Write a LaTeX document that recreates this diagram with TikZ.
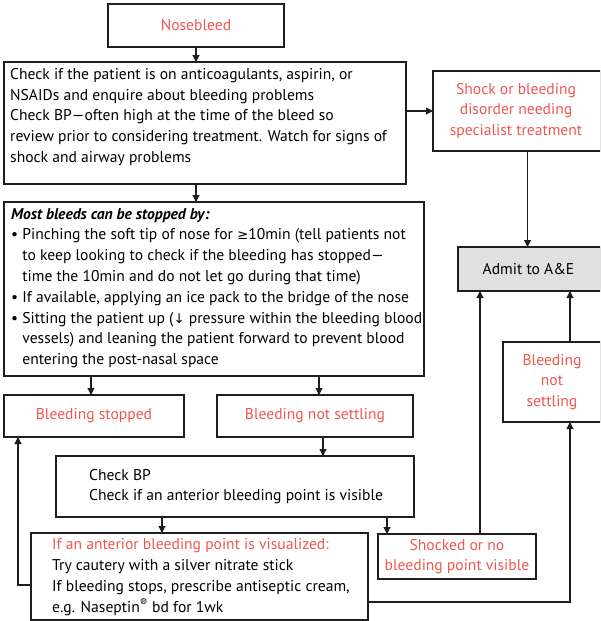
\documentclass[tikz,border=0pt]{standalone}
\usepackage{fontspec}
\setmainfont{PT Sans}
\newfontfamily\symfont{DejaVu Sans}
\usetikzlibrary{arrows.meta}
\definecolor{alert}{RGB}{238,86,80}
\definecolor{admitgray}{RGB}{224,224,224}
\definecolor{edge}{RGB}{30,30,30}
\newcommand{\flowfont}{\fontsize{15.6}{20.8}\selectfont}
\newcommand{\glyphfont}{\symfont\fontsize{13.4}{20.8}\selectfont}
\begin{document}
\begin{tikzpicture}[x=1pt,y=-1pt,
  box/.style={draw=edge, line width=1.2pt, anchor=north west, inner sep=0pt, outer sep=0pt},
  note/.style={anchor=west, align=left, inner sep=0pt, text=black, font=\flowfont},
  alerttext/.style={text=alert, align=center, inner sep=0pt, font=\flowfont},
  plaintext/.style={text=black, align=center, inner sep=0pt, font=\flowfont},
  arr/.style={draw=edge, line width=1.1pt, -{Triangle[length=7pt,width=7pt]}},
  ln/.style={draw=edge, line width=1.1pt}]
\useasboundingbox (0,0) rectangle (600,621);
\clip (0,0) rectangle (600,621);

% boxes
\node[box, minimum width=176, minimum height=43] (nose) at (108,4) {};
\node[alerttext] (noset) at (nose.center) {Nosebleed};

\node[box, minimum width=402, minimum height=122] (check) at (4,62) {};
\node[note] (checkt) at (10,117) {Check if the patient is on anticoagulants, aspirin, or\\
NSAIDs and enquire about bleeding problems\\
Check BP---often high at the time of the bleed so\\
review prior to considering treatment. Watch for signs of\\
shock and airway problems};

\node[box, minimum width=168, minimum height=80] (shock) at (433,71) {};
\node[alerttext] (shockt) at ([xshift=-1pt]shock.center) {Shock or bleeding\\disorder needing\\specialist treatment};

\node[box, fill=admitgray, minimum width=143, minimum height=44] (admit) at (458,247) {};
\node[plaintext] (admitt) at ([xshift=-1pt]admit.center) {Admit to A\&E};

\node[box, minimum width=98, minimum height=80] (bnsr) at (503,342) {};
\node[alerttext] (bnsrt) at (bnsr.center) {Bleeding\\not\\settling};

\node[box, minimum width=420, minimum height=174] (stop) at (4,202) {};
\node[note] (stopt) at (11,288) {\textbf{\textit{Most bleeds can be stopped by:}}\\
\textbullet\ Pinching the soft tip of nose for {\glyphfont ≥}10min (tell patients not\\
\phantom{\textbullet\ }to keep looking to check if the bleeding has stopped---\\
\phantom{\textbullet\ }time the 10min and do not let go during that time)\\
\textbullet\ If available, applying an ice pack to the bridge of the nose\\
\textbullet\ Sitting the patient up ({\glyphfont ↓} pressure within the bleeding blood\\
\phantom{\textbullet\ }vessels) and leaning the patient forward to prevent blood\\
\phantom{\textbullet\ }entering the post-nasal space};

\node[box, minimum width=180, minimum height=42] (stopped) at (4,395) {};
\node[alerttext] (stoppedt) at (stopped.center) {Bleeding stopped};

\node[box, minimum width=196, minimum height=42] (notset) at (217,395) {};
\node[alerttext] (notsett) at (notset.center) {Bleeding not settling};

\node[box, minimum width=358, minimum height=61] (bp) at (56,456) {};
\node[note] (bpt) at (89,486.5) {Check BP\\Check if an anterior bleeding point is visible};

\node[box, minimum width=337, minimum height=87] (caut) at (31,533) {};
\node[note] (cautt) at (52,577) {\textcolor{alert}{If an anterior bleeding point is visualized:}\\
Try cautery with a silver nitrate stick\\
If bleeding stops, prescribe antiseptic cream,\\
e.g. Naseptin\textsuperscript{®} bd for 1wk};

\node[box, minimum width=158, minimum height=45] (shocked) at (378,534) {};
\node[alerttext] (shockedt) at (shocked.center) {Shocked or no\\bleeding point visible};

% connectors
\draw[arr] (nose.south) -- (nose.south |- check.north);
\draw[arr] (check.east |- shock.west) -- (shock.west);
\draw[arr] ([xshift=-2pt]shock.south -| admit.north) -- ([xshift=-2pt]admit.north);
\draw[arr] (nose.south |- check.south) -- (nose.south |- stop.north);
\draw[arr] ([xshift=-3pt]stopped.north |- stop.south) -- ([xshift=-3pt]stopped.north);
\draw[arr] ([xshift=4pt]notset.north |- stop.south) -- ([xshift=4pt]notset.north);
\draw[arr] ([xshift=8pt]notset.south) -- ([xshift=8pt]notset.south |- bp.north);
\draw[arr] ([xshift=106pt]bp.south west) -- ([xshift=106pt]bp.south west |- caut.north);
\draw[arr] ([xshift=-27pt]bp.south east) -- ([xshift=-27pt]bp.south east |- shocked.north);
\draw[arr] ([xshift=102pt]shocked.north west) -- ([xshift=102pt]shocked.north west |- admit.south);
\draw[arr] ([xshift=67pt]bnsr.north west) -- ([xshift=67pt]bnsr.north west |- admit.south);
% return paths below and beside the cautery box
\coordinate (rbend) at (570,602);
\coordinate (lbend) at (18,585);
\draw[arr] (caut.east |- rbend) -- (rbend) -- (rbend |- bnsr.south);
\draw[arr] (caut.west |- lbend) -- (lbend) -- (lbend |- stopped.south);
\end{tikzpicture}
\end{document}
